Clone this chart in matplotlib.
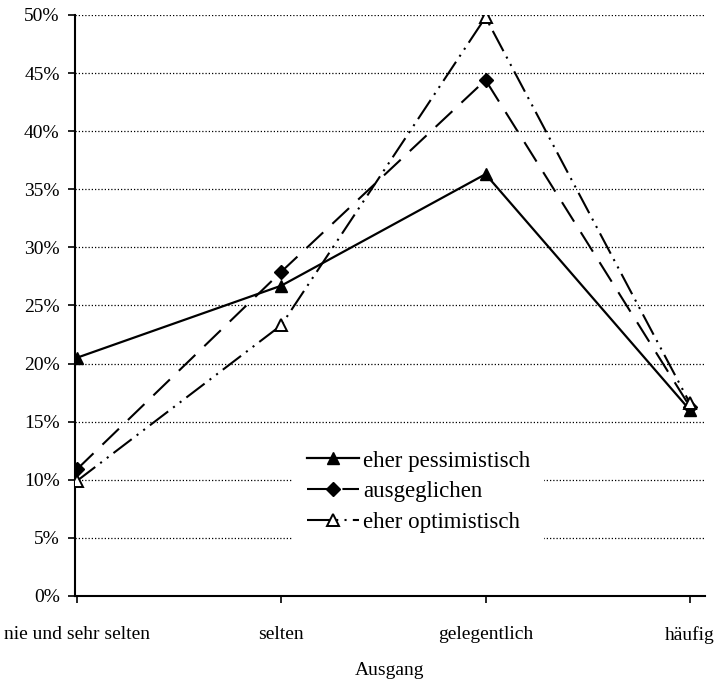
import numpy as np
import matplotlib
matplotlib.use("Agg")
import matplotlib.pyplot as plt
from matplotlib.ticker import FuncFormatter

plt.rcParams['font.family'] = ['Liberation Serif', 'DejaVu Serif']

categories = ['nie und sehr selten', 'selten', 'gelegentlich', 'häufig']
pessimistisch = [20.5, 26.7, 36.3, 16.0]
ausgeglichen = [10.9, 27.9, 44.4, 16.3]
optimistisch = [9.9, 23.3, 49.8, 16.6]
yticks = [0, 5, 10, 15, 20, 25, 30, 35, 40, 45, 50]

fig = plt.figure(figsize=(7.14, 6.81), dpi=100)
ax = fig.add_axes([0.105, 0.125, 0.882, 0.853])

x = np.arange(len(categories))

ax.plot(x, pessimistisch, color='black', lw=1.6, marker='^', ms=9,
        mfc='black', mec='black', label='eher pessimistisch', zorder=4)
ax.plot(x, ausgeglichen, color='black', lw=1.5, marker='D', ms=7,
        mfc='black', mec='black', dashes=(11, 6), label='ausgeglichen', zorder=4)
ax.plot(x, optimistisch, color='black', lw=1.5, marker='^', ms=9,
        mfc='white', mec='black', mew=1.4, dashes=(11, 3, 1, 3, 1, 3),
        label='eher optimistisch', zorder=5)

ax.set_xlim(-0.01, 3.073)
ax.set_ylim(0, 50)
ax.set_xticks(x)
ax.set_xticklabels(categories)
ax.set_yticks(yticks)
ax.yaxis.set_major_formatter(FuncFormatter(lambda v, p: f'{v:.0f}%'))

for v in yticks[1:]:
    ax.axhline(v, color='black', lw=0.9, ls=(0, (1, 1.6)), zorder=1)

for s in ['top', 'right']:
    ax.spines[s].set_visible(False)
for s in ['left', 'bottom']:
    ax.spines[s].set_linewidth(1.5)

ax.tick_params(axis='both', direction='out', length=5, width=1.2, labelsize=14)
ax.tick_params(axis='x', pad=17)
ax.tick_params(axis='y', pad=6)

ax.set_xlabel('Ausgang', fontsize=14)
ax.xaxis.set_label_coords(0.5, -0.113)

leg = ax.legend(loc='upper left', bbox_to_anchor=(0.346, 0.274), borderaxespad=0,
                fontsize=16.5, frameon=True, framealpha=1, facecolor='white',
                edgecolor='none', handlelength=2.3, handletextpad=0.15,
                labelspacing=0.42, borderpad=0.6, fancybox=False)
leg.set_zorder(3)

fig.savefig('out.png', dpi=100)
